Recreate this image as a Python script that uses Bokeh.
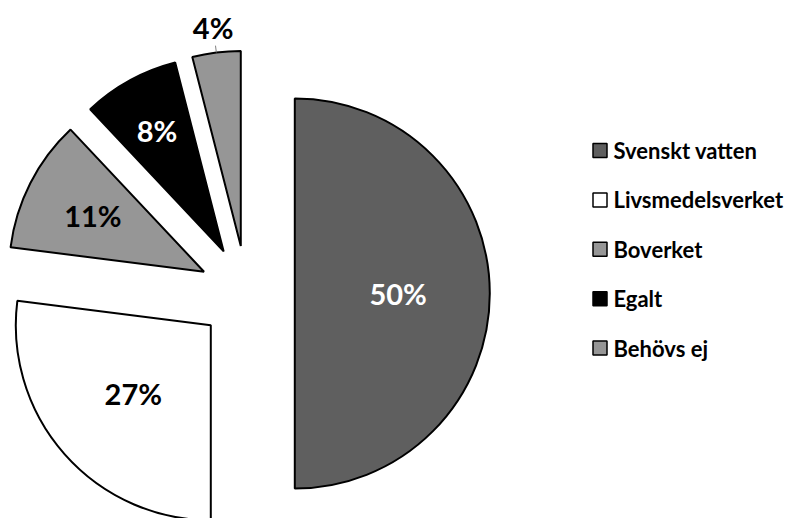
import numpy as np
from bokeh.plotting import figure
from bokeh.models import Range1d
from bokeh.core.properties import value
from bokeh.embed import file_html
from bokeh.resources import INLINE

# ---- data ----
categories = ["Svenskt vatten", "Livsmedelsverket", "Boverket", "Egalt", "Behövs ej"]
values = [50, 27, 11, 8, 4]
labels = ["50%", "27%", "11%", "8%", "4%"]

# ---- style ----
colors = ["#5f5f5f", "#ffffff", "#969696", "#000000", "#969696"]
label_colors = ["#ffffff", "#000000", "#000000", "#ffffff", "#000000"]
label_r = [0.53, 0.53, 0.64, 0.71, 1.13]   # label distance as fraction of radius
FONT = value("Lato")

W, H = 786, 518
p = figure(width=W, height=H, output_backend="svg", toolbar_location=None,
           x_range=Range1d(0, W), y_range=Range1d(0, H),
           x_axis_type=None, y_axis_type=None, min_border=0)
p.grid.visible = False
p.outline_line_color = None
p.background_fill_color = "white"
p.border_fill_color = "white"

cx, cy, R, explode = 246.3, 225.0, 195.0, 48.0

vals = np.array(values, dtype=float)
frac = vals / vals.sum()
ends = np.cumsum(frac) * 2 * np.pi          # clockwise from 12 o'clock
starts = ends - frac * 2 * np.pi
mids = (starts + ends) / 2
ox = cx + explode * np.sin(mids)
oy = cy + explode * np.cos(mids)

p.wedge(x=ox, y=oy, radius=R,
        start_angle=np.pi / 2 - ends, end_angle=np.pi / 2 - starts,
        fill_color=colors, line_color="black", line_width=2)

lr = np.array(label_r)
lx = ox + lr * R * np.sin(mids)
ly = oy + lr * R * np.cos(mids)
p.text(x=lx, y=ly, text=labels, text_color=label_colors,
       text_font=FONT, text_font_style="bold", text_font_size="29px",
       text_align="center", text_baseline="middle")

# leader lines for outside labels
for i in range(len(values)):
    if label_r[i] > 1:
        x0 = ox[i] + R * np.sin(mids[i]); y0 = oy[i] + R * np.cos(mids[i])
        x1 = ox[i] + 1.035 * R * np.sin(mids[i]); y1 = oy[i] + 1.035 * R * np.cos(mids[i])
        p.line(x=[x0, x1], y=[y0, y1], line_color="#808080", line_width=1)

# legend
n = len(categories)
leg_y = np.array([518 - (150 + i * 49.4) for i in range(n)])
p.scatter(x=[599.5] * n, y=leg_y, marker="square", size=14,
          fill_color=colors, line_color="black", line_width=1.5)
p.text(x=[613] * n, y=leg_y, text=categories, text_color="black",
       text_font=FONT, text_font_style="bold", text_font_size="22px",
       text_align="left", text_baseline="middle")

open("out.html", "w").write(file_html(p, INLINE))
